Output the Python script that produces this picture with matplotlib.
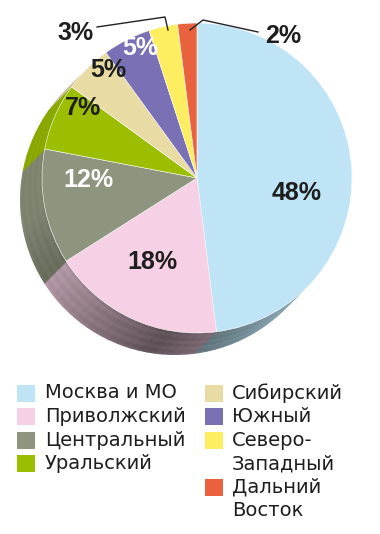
import matplotlib
matplotlib.use("Agg")
import matplotlib.pyplot as plt
from matplotlib.patches import Wedge, Rectangle
from matplotlib.colors import to_rgb
import numpy as np

regions = ["Москва и МО", "Приволжский", "Центральный", "Уральский",
           "Сибирский", "Южный", "Северо-\nЗападный", "Дальний\nВосток"]
shares = [48, 18, 12, 7, 5, 5, 3, 2]
colors = ["#bee4f6", "#f6d1e5", "#8e957f", "#9bbf00",
          "#e8dba4", "#7a70b5", "#fcee60", "#e8633d"]
label_colors = ["#1e1e1e", "#1e1e1e", "white", "#1e1e1e",
                "#1e1e1e", "white", "#1e1e1e", "#1e1e1e"]

W, H = 380, 534
fig = plt.figure(figsize=(W / 100, H / 100), dpi=100)
ax = fig.add_axes([0, 0, 1, 1])


def py(y):
    # picture rows -> data y (y axis points up)
    return H - y


cx, cy, R = 197, py(178), 155
depth = 22

# wedge angles (clockwise from 12 o'clock)
fracs = np.array(shares) / sum(shares)
ends = 90 - 360 * np.cumsum(fracs)
starts = np.concatenate([[90], ends[:-1]])


def shade(a):
    d = (a + 100 + 180) % 360 - 180
    return 0.37 + 0.5 * min(1.0, abs(d) / 70)


# side of the disk: stacked shifted layers, shaded along the rim
for k in range(depth, 0, -1):
    for s, e, c in zip(starts, ends, colors):
        base = np.array(to_rgb(c))
        a = s
        while a > e:
            b = max(a - 3, e)
            f = shade((a + b) / 2) + (0.03 if (k // 3) % 2 else 0)
            ax.add_patch(Wedge((cx - k, cy - k), R, b, a + 0.3,
                               facecolor=np.clip(base * f, 0, 1), lw=0))
            a = b

# top of the disk
ax.pie(shares, colors=colors, startangle=90, counterclock=False,
       radius=R, center=(cx, cy), frame=True,
       wedgeprops=dict(linewidth=0.4, edgecolor="white"))
ax.set_xlim(0, W)
ax.set_ylim(0, H)
ax.set_aspect("auto")
ax.axis("off")

label_pos = [(297, 193), (152, 262), (88, 180), (83, 108),
             (108, 70), (140, 48), (76, 33), (283, 36)]
for v, (x, y), tc in zip(shares, label_pos, label_colors):
    ax.text(x, py(y), f"{v}%", ha="center", va="center", fontsize=18,
            fontweight="bold", color=tc, family="Liberation Sans")

# leader lines for the two thin slices
ax.plot([97, 165, 168], [py(27), py(17), py(30)], color="#222222", lw=1)
ax.plot([258, 203, 190], [py(32), py(20), py(30)], color="#222222", lw=1)

# legend
row0, step = 393, 23.5
cols = [(17, 45), (205, 232)]
split = 4
row = 0
for i, (name, c) in enumerate(zip(regions, colors)):
    if i == split:
        row = 0
    sx, tx = cols[0] if i < split else cols[1]
    yc = row0 + row * step
    ax.add_patch(Rectangle((sx, py(yc) - 8.5), 18, 17, facecolor=c, lw=0))
    for j, line in enumerate(name.split("\n")):
        ax.text(tx, py(yc + j * step), line, ha="left", va="center",
                fontsize=14, color="#1e1e1e", family="DejaVu Sans")
    row += len(name.split("\n"))

fig.savefig("out.png", dpi=100)
